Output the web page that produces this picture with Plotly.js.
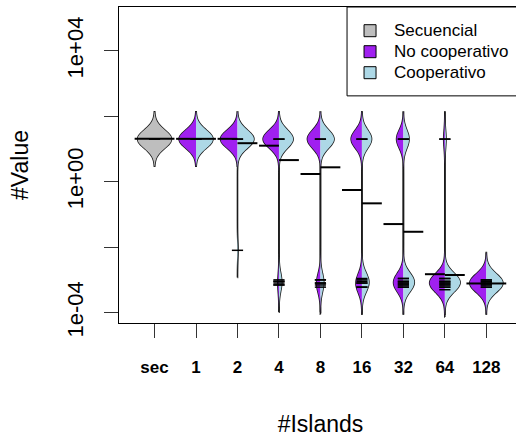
<!DOCTYPE html>
<html><head><meta charset="utf-8">
<script src="https://cdn.plot.ly/plotly-3.0.1.min.js"></script>
<style>html,body{margin:0;padding:0;overflow:hidden;background:#fff}#chart{width:523px;height:438px}</style>
</head><body><div id="chart"></div>
<script>
// ---------- data ----------
const categories = ['sec', '1', '2', '4', '8', '16', '32', '64', '128'];
const seriesNames = ['Secuencial', 'No cooperativo', 'Cooperativo'];

// observations per bean half as [value, count]
const secObs = [[20, 30]];
const noCoopObs = [
  [[20, 30]],                                                                  // 1
  [[20, 30]],                                                                  // 2
  [[20, 28], [0.0009, 1], [0.0007, 1]],                                        // 4
  [[20, 23], [0.001, 2], [0.0008, 3], [0.0006, 2]],                            // 8
  [[20, 19], [0.001, 3], [0.0008, 5], [0.0006, 3]],                            // 16
  [[20, 12], [0.0011, 3], [0.0009, 5], [0.0008, 5], [0.0007, 3], [0.0006, 2]], // 32
  [[20, 2], [0.0011, 4], [0.0009, 7], [0.0008, 8], [0.0007, 5], [0.0006, 3], [0.0005, 1]], // 64
  [[0.001, 4], [0.0009, 7], [0.0008, 9], [0.0007, 7], [0.0006, 3]]            // 128
];
const coopObs = [
  [[20, 30]],                                                                  // 1
  [[20, 29], [0.008, 1]],                                                      // 2
  [[20, 25], [0.001, 1], [0.0009, 2], [0.0008, 1], [0.0007, 1]],               // 4
  [[20, 24], [0.001, 2], [0.0008, 2], [0.0007, 2]],                            // 8
  [[20, 17], [0.0011, 3], [0.0009, 4], [0.0008, 3], [0.0006, 3]],              // 16
  [[20, 10], [0.0011, 4], [0.0009, 6], [0.0008, 5], [0.0007, 3], [0.0006, 2]], // 32
  [[20, 2], [0.0011, 5], [0.0009, 8], [0.0008, 7], [0.0007, 5], [0.0006, 3]],  // 64
  [[0.001, 4], [0.0009, 8], [0.0008, 8], [0.0007, 7], [0.0006, 3]]             // 128
];

// bean lines (means)
const secMean = [20.4];
const noCoopMean = [20.4, 20.4, 12.6, 1.72, 0.557, 0.0507, 0.00149, 0.000776];
const coopMean = [20.4, 15.0, 4.57, 2.75, 0.218, 0.0295, 0.00141, 0.000776];

const yTickVals = [1e-4, 1e-2, 1, 1e2, 1e4];
const yTickText = ['1e-04', '', '1e+00', '', '1e+04'];

// ---------- styling ----------
const FONT = 'Liberation Sans, Arial, Helvetica, sans-serif';
const colSec = '#BEBEBE', colNC = '#A020F0', colC = '#ADD8E6';
const BW = 0.277;          // kernel bandwidth (decades)
const LINE_HALF = 0.48;    // bean line length per side

const lg = v => Math.log10(v);
function expand(obs) {
  const out = [];
  obs.forEach(([v, n]) => { for (let i = 0; i < n; i++) out.push(lg(v)); });
  return out;
}

const halves = [];
halves.push({pos: 1, side: 'both', vals: expand(secObs), color: colSec});
noCoopObs.forEach((o, i) => halves.push({pos: i + 2, side: 'negative', vals: expand(o), color: colNC}));
coopObs.forEach((o, i) => halves.push({pos: i + 2, side: 'positive', vals: expand(o), color: colC}));

function violin(h, outline) {
  const lo = Math.min(...h.vals) - 3 * BW, hi = Math.max(...h.vals) + 3 * BW;
  return {
    type: 'violin', x0: h.pos, y: h.vals, side: h.side,
    bandwidth: BW, spanmode: 'manual', span: [lo, hi],
    scalegroup: 'all', scalemode: 'count',
    points: false, box: {visible: false}, meanline: {visible: false},
    showlegend: false, hoverinfo: 'skip',
    fillcolor: outline ? 'rgba(0,0,0,0)' : h.color,
    line: {color: outline ? '#1a1a1a' : h.color, width: outline ? 1.6 : 0}
  };
}

const traces = [];
halves.forEach(h => traces.push(violin(h, true)));
halves.forEach(h => traces.push(violin(h, false)));

// bean lines
function segs(means, startPos, dl, dr) {
  const x = [], y = [];
  means.forEach((m, i) => { const p = startPos + i; x.push(p - dl, p + dr, null); y.push(lg(m), lg(m), null); });
  return {type: 'scatter', mode: 'lines', x, y, line: {color: '#000', width: 2}, showlegend: false, hoverinfo: 'skip'};
}
traces.push(segs(secMean, 1, LINE_HALF, LINE_HALF));
traces.push(segs(noCoopMean, 2, LINE_HALF, 0));
traces.push(segs(coopMean, 2, 0, LINE_HALF));

// individual observation ticks
const tx = [], ty = [];
halves.forEach(h => { const seen = new Set(); h.vals.forEach(v => { if (!seen.has(v)) { seen.add(v); tx.push(h.pos); ty.push(v); } }); });
traces.push({type: 'scatter', mode: 'markers', x: tx, y: ty,
  marker: {symbol: 'line-ew', size: 8, color: '#000', line: {color: '#000', width: 1.5}},
  showlegend: false, hoverinfo: 'skip'});

// ---------- legend (drawn box) ----------
const legX = (347 - 119.3) / 402.4;
const legY0 = (322.7 - 96) / 315.4;
const rowOff = [23.7, 44.7, 65.7];
const legColors = [colSec, colNC, colC];
const shapes = [{type: 'rect', xref: 'paper', yref: 'paper', x0: legX, x1: 1, y0: legY0, y1: 1,
  line: {color: '#000', width: 1}, fillcolor: '#fff', layer: 'above'}];
const annotations = [];
seriesNames.forEach((s, i) => {
  shapes.push({type: 'rect', xref: 'paper', yref: 'paper', xsizemode: 'pixel', ysizemode: 'pixel',
    xanchor: legX, yanchor: 1, x0: 17, x1: 29, y0: -rowOff[i] - 6, y1: -rowOff[i] + 6,
    line: {color: '#000', width: 1}, fillcolor: legColors[i], layer: 'above'});
  annotations.push({xref: 'paper', yref: 'paper', x: legX, y: 1, xanchor: 'left', yanchor: 'middle',
    xshift: 45, yshift: -rowOff[i], text: s, showarrow: false,
    font: {family: FONT, size: 17, color: '#000'}});
});

const layout = {
  width: 523, height: 438,
  margin: {l: 119.3, r: 1.3, t: 7.3, b: 115.3, pad: 0},
  paper_bgcolor: '#fff', plot_bgcolor: '#fff',
  violinmode: 'overlay', violingap: 0.18, violingroupgap: 0, showlegend: false,
  font: {family: FONT, color: '#000'},
  xaxis: {
    type: 'linear', range: [0.143, 9.86], tickmode: 'array',
    tickvals: categories.map((c, i) => i + 1), ticktext: categories,
    ticks: 'outside', ticklen: 14, tickwidth: 1, tickcolor: '#333',
    showline: true, linecolor: '#000', linewidth: 1, mirror: true,
    showgrid: false, zeroline: false,
    tickfont: {family: FONT, size: 17, weight: 'bold', color: '#000'},
    ticklabelstandoff: 15,
    title: {text: '#Islands', font: {family: FONT, size: 23, color: '#000'}, standoff: 39}
  },
  yaxis: {
    type: 'linear', range: [-4.318, 5.338], tickmode: 'array',
    tickvals: yTickVals.map(lg), ticktext: yTickText, tickangle: -90,
    ticks: 'outside', ticklen: 14, tickwidth: 1, tickcolor: '#333',
    showline: true, linecolor: '#000', linewidth: 1, mirror: true,
    showgrid: false, zeroline: false,
    tickfont: {family: FONT, size: 22, color: '#000'},
    ticklabelstandoff: 12,
    title: {text: '#Value', font: {family: FONT, size: 23, color: '#000'}, standoff: 28}
  },
  shapes, annotations
};

Plotly.newPlot('chart', traces, layout, {staticPlot: true, displayModeBar: false});
</script>
</body></html>
